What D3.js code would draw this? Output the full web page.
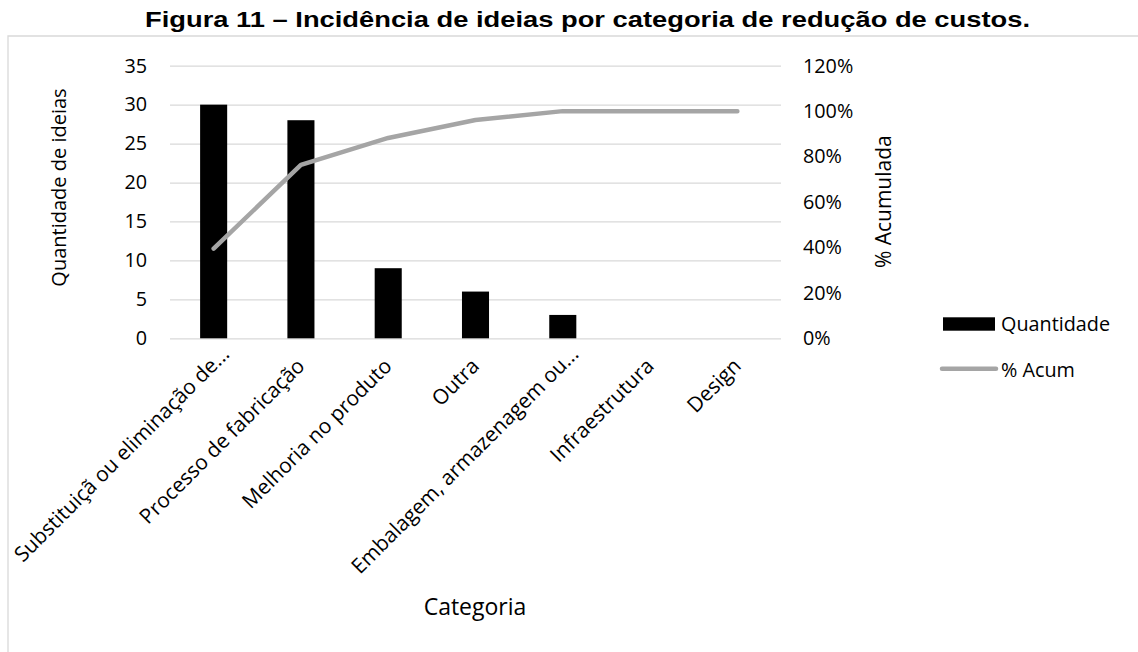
<!DOCTYPE html>
<html>
<head>
<meta charset="utf-8">
<script src="https://cdn.jsdelivr.net/npm/d3@7"></script>
<style>
  html, body { margin: 0; padding: 0; background: #fff; }
  svg { display: block; }
</style>
</head>
<body>
<svg id="chart" width="1138" height="652"></svg>
<script>
const categories = [
  "Substituiçã ou eliminação de...",
  "Processo de fabricação",
  "Melhoria no produto",
  "Outra",
  "Embalagem, armazenagem ou...",
  "Infraestrutura",
  "Design"
];
const quantidade = [30, 28, 9, 6, 3, 0, 0];
const acumPct = [0.395, 0.763, 0.882, 0.961, 1.0, 1.0, 1.0];
const leftTicks = [0, 5, 10, 15, 20, 25, 30, 35];
const rightTicks = [0, 0.2, 0.4, 0.6, 0.8, 1.0, 1.2];
const titleText = "Figura 11 – Incidência de ideias por categoria de redução de custos.";
const seriesNames = ["Quantidade", "% Acum"];

const svg = d3.select("#chart");
const FONT = "'Open Sans', sans-serif";
const plot = { left: 170, right: 781, top: 65.7, bottom: 338.3 };

svg.append("rect").attr("width", 1138).attr("height", 652).attr("fill", "#fff");

// outer frame (only top and left visible)
svg.append("path")
  .attr("d", "M8,652 L8,36 L1138,36")
  .attr("fill", "none").attr("stroke", "#d9d9d9").attr("stroke-width", 1.3);

// title
svg.append("text")
  .attr("x", 145).attr("y", 27)
  .attr("font-family", "'Liberation Sans', Arial, sans-serif")
  .attr("font-weight", "bold").attr("font-size", 22.5)
  .attr("textLength", 885).attr("lengthAdjust", "spacingAndGlyphs")
  .attr("fill", "#000")
  .text(titleText);

const x = d3.scaleBand().domain(categories).range([plot.left, plot.right])
  .paddingInner(0.69).paddingOuter(0.345);
const yL = d3.scaleLinear().domain([0, 35]).range([plot.bottom, plot.top]);
const yR = d3.scaleLinear().domain([0, 1.2]).range([plot.bottom, plot.top]);

// gridlines
const grid = svg.append("g")
  .attr("transform", `translate(${plot.left},0)`)
  .call(d3.axisLeft(yL).tickValues(leftTicks).tickSize(-(plot.right - plot.left)).tickFormat(""));
grid.select(".domain").remove();
grid.selectAll(".tick line").attr("stroke", "#d9d9d9").attr("stroke-width", 1.3);

// left axis labels
const axL = svg.append("g")
  .attr("transform", `translate(${plot.left},0)`)
  .call(d3.axisLeft(yL).tickValues(leftTicks).tickSize(0).tickPadding(23));
axL.select(".domain").remove();
axL.selectAll("text").attr("font-family", FONT).attr("font-size", 19.8).attr("fill", "#000");

// right axis labels
const axR = svg.append("g")
  .attr("transform", `translate(${plot.right},0)`)
  .call(d3.axisRight(yR).tickValues(rightTicks).tickSize(0).tickPadding(22).tickFormat(d3.format(".0%")));
axR.select(".domain").remove();
axR.selectAll("text").attr("font-family", FONT).attr("font-size", 19.8).attr("fill", "#000");

// bars
svg.append("g").selectAll("rect")
  .data(categories.map((c, i) => ({ c, v: quantidade[i] })))
  .join("rect")
  .attr("x", d => x(d.c))
  .attr("width", x.bandwidth())
  .attr("y", d => yL(d.v))
  .attr("height", d => yL(0) - yL(d.v))
  .attr("fill", "#000");

// cumulative line
const line = d3.line()
  .x(d => x(d.c) + x.bandwidth() / 2)
  .y(d => yR(d.v));
svg.append("path")
  .datum(categories.map((c, i) => ({ c, v: acumPct[i] })))
  .attr("d", line)
  .attr("fill", "none").attr("stroke", "#a5a5a5").attr("stroke-width", 4.5)
  .attr("stroke-linecap", "round").attr("stroke-linejoin", "round");

// x category labels (rotated)
const xl = svg.append("g");
categories.forEach(c => {
  const cx = x(c) + x.bandwidth() / 2;
  const trunc = c.endsWith("...");
  const dx = trunc ? 17 : 5;
  const dy = trunc ? 17 : 29;
  xl.append("text")
    .attr("transform", `translate(${cx + dx},${plot.bottom + dy}) rotate(-45)`)
    .attr("text-anchor", "end")
    .attr("font-family", FONT).attr("font-size", 20.8).attr("fill", "#000")
    .text(c);
});

// axis titles
svg.append("text")
  .attr("transform", "translate(66,187.5) rotate(-90)")
  .attr("text-anchor", "middle")
  .attr("font-family", FONT).attr("font-size", 20).attr("fill", "#000")
  .text("Quantidade de ideias");

svg.append("text")
  .attr("transform", "translate(891,201.7) rotate(-90)")
  .attr("text-anchor", "middle")
  .attr("font-family", FONT).attr("font-size", 21).attr("fill", "#000")
  .text("% Acumulada");

svg.append("text")
  .attr("x", 475).attr("y", 615)
  .attr("text-anchor", "middle")
  .attr("font-family", FONT).attr("font-size", 23).attr("fill", "#000")
  .text("Categoria");

// legend
const lg = svg.append("g");
lg.append("rect").attr("x", 943).attr("y", 317.3).attr("width", 52).attr("height", 13.4).attr("fill", "#000");
lg.append("text").attr("x", 1001).attr("y", 330.5)
  .attr("font-family", FONT).attr("font-size", 19.8).attr("fill", "#000").text(seriesNames[0]);
lg.append("line").attr("x1", 942).attr("x2", 996).attr("y1", 368.7).attr("y2", 368.7)
  .attr("stroke", "#a5a5a5").attr("stroke-width", 4.5).attr("stroke-linecap", "round");
lg.append("text").attr("x", 1001).attr("y", 376.5)
  .attr("font-family", FONT).attr("font-size", 19.8).attr("fill", "#000").text(seriesNames[1]);
</script>
</body>
</html>
